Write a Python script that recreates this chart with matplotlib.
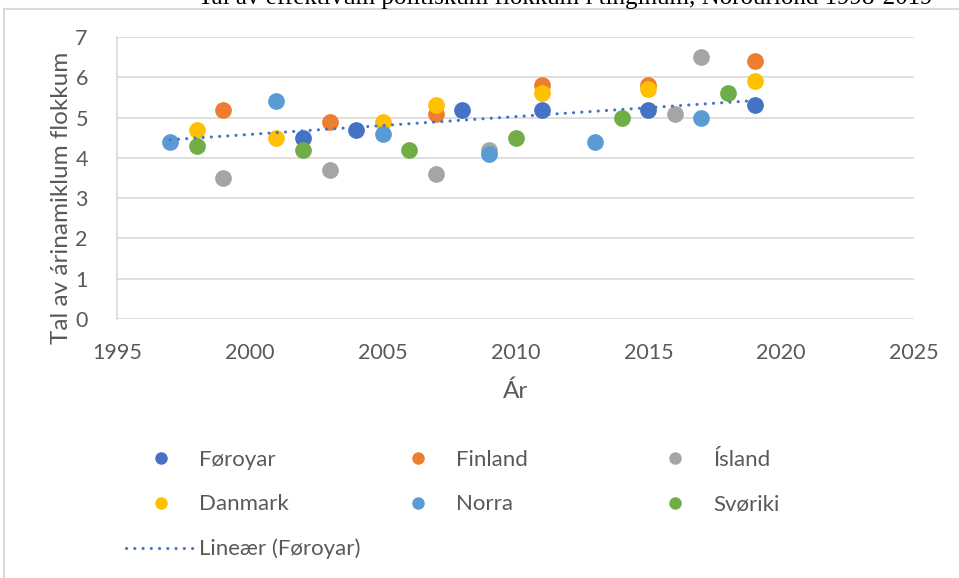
import matplotlib.pyplot as plt
from matplotlib.lines import Line2D
from matplotlib.patches import Rectangle
import numpy as np

plt.rcParams['font.family'] = ['Lato', 'DejaVu Sans']

# data
foroyar_years = [2002, 2004, 2008, 2011, 2015, 2019]
foroyar_vals = [4.5, 4.7, 5.2, 5.2, 5.2, 5.3]

finland_years = [1999, 2003, 2007, 2011, 2015, 2019]
finland_vals = [5.2, 4.9, 5.1, 5.8, 5.8, 6.4]

island_years = [1999, 2003, 2007, 2009, 2016, 2017]
island_vals = [3.5, 3.7, 3.6, 4.2, 5.1, 6.5]

danmark_years = [1998, 2001, 2005, 2007, 2011, 2015, 2019]
danmark_vals = [4.7, 4.5, 4.9, 5.3, 5.6, 5.7, 5.9]

norra_years = [1997, 2001, 2005, 2009, 2013, 2017]
norra_vals = [4.4, 5.4, 4.6, 4.1, 4.4, 5.0]

sveriki_years = [1998, 2002, 2006, 2010, 2014, 2018]
sveriki_vals = [4.3, 4.2, 4.2, 4.5, 5.0, 5.6]

series = [
    ('Føroyar', foroyar_years, foroyar_vals, '#4472C4'),
    ('Finland', finland_years, finland_vals, '#ED7D31'),
    ('Ísland', island_years, island_vals, '#A5A5A5'),
    ('Danmark', danmark_years, danmark_vals, '#FFC000'),
    ('Norra', norra_years, norra_vals, '#5B9BD5'),
    ('Svøriki', sveriki_years, sveriki_vals, '#70AD47'),
]

W, H = 959, 578
fig = plt.figure(figsize=(W / 100, H / 100), dpi=100)
ax = fig.add_axes([117 / W, 1 - 319 / H, 797 / W, 282 / H])

trend_style = dict(color='#4472C4', linewidth=2.2, linestyle=(0, (0.05, 2.65)),
                   dash_capstyle='round')

handles = {}
for name, xs, ys, color in series:
    ax.scatter(xs, ys, s=145, color=color, zorder=3, linewidths=0)
    handles[name] = Line2D([], [], linestyle='none', marker='o', markersize=9,
                           markerfacecolor=color, markeredgewidth=0)

# linear trend for Føroyar, stretched over all years
all_years = np.concatenate([s[1] for s in series])
k, b = np.polyfit(foroyar_years, foroyar_vals, 1)
tx = np.array([all_years.min(), all_years.max()])
ax.plot(tx, k * tx + b, zorder=4, **trend_style)
handles['Lineær (Føroyar)'] = Line2D([], [], **trend_style)

ax.set_xlim(1995, 2025)
ax.set_ylim(0, 7)
ax.set_xticks(range(1995, 2026, 5))
ax.set_yticks(range(0, 8))
ax.grid(axis='y', color='#D9D9D9', linewidth=1.2)
ax.set_axisbelow(True)
for side in ['top', 'right', 'bottom']:
    ax.spines[side].set_visible(False)
ax.spines['left'].set_color('#D9D9D9')
ax.spines['left'].set_linewidth(1.2)
ax.tick_params(length=0, labelsize=15.5, labelcolor='#595959')
ax.tick_params(axis='y', pad=21)
ax.tick_params(axis='x', pad=17)

ax.set_xlabel('Ár', fontsize=17.5, color='#595959', labelpad=13)
ax.set_ylabel('Tal av árinamiklum flokkum', fontsize=17.5, color='#595959')
ax.yaxis.set_label_coords(-0.057, 0.43)

# legend: three columns of equal width
columns = [['Føroyar', 'Danmark', 'Lineær (Føroyar)'], ['Finland', 'Norra'], ['Ísland', 'Svøriki']]
for i, names in enumerate(columns):
    leg = fig.legend([handles[n] for n in names], names, loc='upper left',
                     bbox_to_anchor=((126 + 257 * i) / W, 1 - 450 / H), frameon=False,
                     fontsize=16, handlelength=3.15, handletextpad=0.15,
                     labelspacing=1.1, borderpad=0, borderaxespad=0)
    for t in leg.get_texts():
        t.set_color('#595959')

# chart area border (cut at right and bottom) and clipped title
fig.patches.append(Rectangle((4 / W, -0.1), 1.2, 1 - 9 / H + 0.1, transform=fig.transFigure,
                             fill=False, edgecolor='#D9D9D9', linewidth=1.5))
fig.text(565 / W, 1 - 4 / H, 'Tal av effektivum politiskum flokkum í tinginum, Norðurlond 1998-2019',
         ha='center', va='baseline', fontsize=18, family='Liberation Serif', color='#000000')

plt.savefig('out.png', dpi=100)
